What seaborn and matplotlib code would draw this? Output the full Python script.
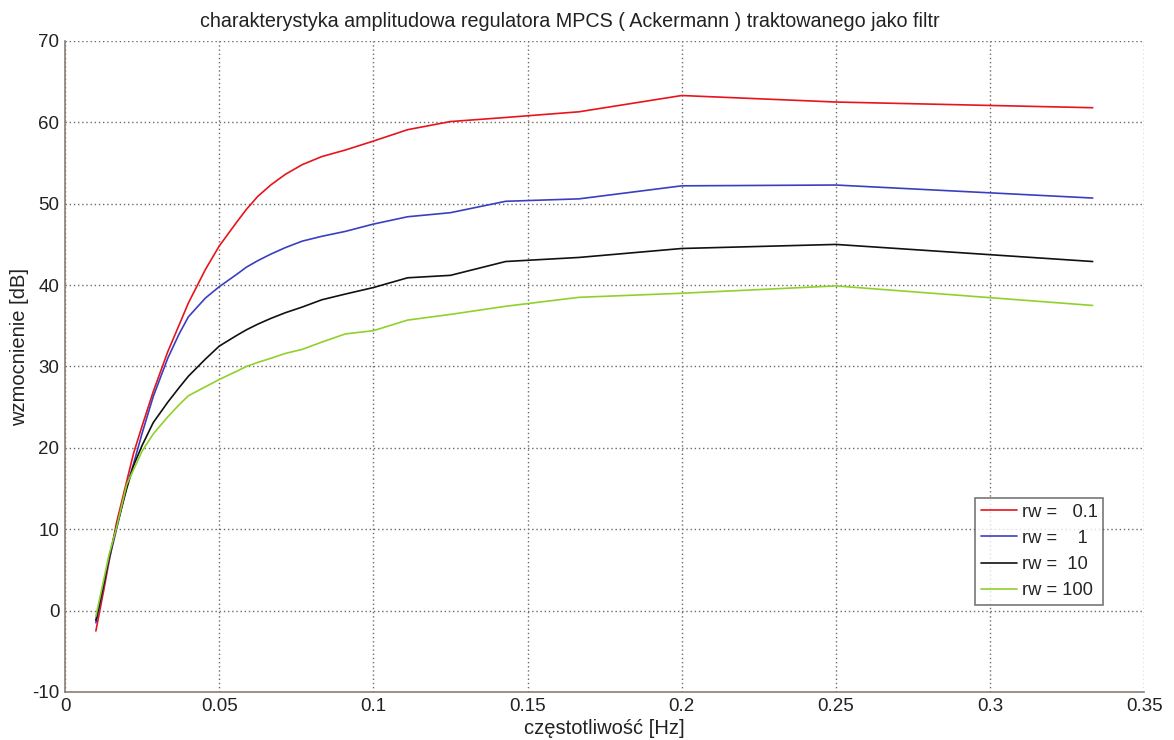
import pandas as pd
import numpy as np
import matplotlib
matplotlib.use('Agg')
import matplotlib.pyplot as plt
import seaborn as sns

# Częstotliwości (1/n)
freq = [0.01, 0.0125, 0.0143, 0.0167, 0.02, 0.0222, 0.025, 0.0286, 0.0333,
        0.037, 0.04, 0.0455, 0.05, 0.0556, 0.0588, 0.0625, 0.0667, 0.0714,
        0.0769, 0.0833, 0.0909, 0.1, 0.1111, 0.125, 0.1429, 0.1667, 0.2,
        0.25, 0.3333]

# Wzmocnienie [dB] dla kolejnych rw
gain_01 = [-2.5, 2.4, 6.1, 10.8, 15.9, 19.3, 22.7, 26.9, 31.8,
           35.1, 37.8, 41.9, 44.8, 47.7, 49.3, 50.9, 52.3, 53.6,
           54.8, 55.8, 56.6, 57.7, 59.1, 60.1, 60.6, 61.3, 63.3,
           62.5, 61.8]
gain_1 = [-1.5, 3.0, 6.3, 10.0, 15.3, 18.0, 21.8, 26.3, 31.0,
          34.0, 36.1, 38.4, 39.8, 41.3, 42.2, 43.0, 43.8, 44.6,
          45.4, 46.0, 46.6, 47.5, 48.4, 48.9, 50.3, 50.6, 52.2,
          52.3, 50.7]
gain_10 = [-1.2, 3.2, 6.6, 10.3, 15.0, 17.8, 20.3, 23.1, 25.6,
           27.4, 28.8, 30.9, 32.5, 33.8, 34.5, 35.2, 35.9, 36.6,
           37.3, 38.2, 38.9, 39.7, 40.9, 41.2, 42.9, 43.4, 44.5,
           45.0, 42.9]
gain_100 = [-0.7, 3.7, 6.9, 10.2, 15.5, 17.3, 19.6, 21.7, 23.8,
            25.3, 26.4, 27.5, 28.4, 29.4, 30.0, 30.5, 31.0, 31.6,
            32.1, 33.0, 34.0, 34.4, 35.7, 36.4, 37.4, 38.5, 39.0,
            39.9, 37.5]

labels = ['rw =   0.1', 'rw =    1', 'rw =  10', 'rw = 100']
colors = ['#e8141c', '#3a3fc0', '#111111', '#8fd12a']

frames = []
for lab, g in zip(labels, [gain_01, gain_1, gain_10, gain_100]):
    frames.append(pd.DataFrame({'f': freq, 'g': g, 'rw': lab}))
df = pd.concat(frames, ignore_index=True)

sns.set_style('white')
plt.rcParams['font.family'] = ['Liberation Sans', 'DejaVu Sans']
plt.rcParams['axes.unicode_minus'] = False

fig = plt.figure(figsize=(11.74, 7.40), dpi=100)
ax = fig.add_axes([0.0554, 0.0649, 0.9192, 0.8797])

sns.lineplot(data=df, x='f', y='g', hue='rw', palette=colors, sort=False,
             linewidth=1.2, ax=ax, estimator=None)

ax.set_xlim(0, 0.35)
ax.set_ylim(-10, 70)
ax.set_xticks([0, 0.05, 0.1, 0.15, 0.2, 0.25, 0.3, 0.35])
ax.set_xticklabels(['0', '0.05', '0.1', '0.15', '0.2', '0.25', '0.3', '0.35'])
ax.set_yticks(range(-10, 71, 10))

ax.grid(True, linestyle=(0, (1, 2)), color='#6e6a66', linewidth=1.0)
for s in ['top', 'right']:
    ax.spines[s].set_visible(False)
for s in ['left', 'bottom']:
    ax.spines[s].set_color('#8a7f78')
    ax.spines[s].set_linewidth(1.2)
ax.tick_params(direction='in', length=5, color='#8a7f78', labelsize=13.5,
               pad=4, labelcolor='#222222')

ax.set_title('charakterystyka amplitudowa regulatora MPCS ( Ackermann ) traktowanego jako filtr',
             fontsize=14.2, color='#222222', pad=10, x=0.468)
ax.set_xlabel('częstotliwość [Hz]', fontsize=14.5, color='#222222', labelpad=3)
ax.set_ylabel('wzmocnienie [dB]', fontsize=14.5, color='#222222', labelpad=6)
ax.yaxis.set_label_coords(-0.033, 0.53)

leg = ax.legend(loc='lower right', bbox_to_anchor=(0.962, 0.134), fontsize=13.2,
                frameon=True, fancybox=False, edgecolor='#555555',
                handlelength=2.0, borderpad=0.3, labelspacing=0.5,
                handletextpad=0.25, borderaxespad=0.0)
leg.get_frame().set_linewidth(1.2)
leg.set_title(None)

fig.savefig('out.png', dpi=100, facecolor='white')
